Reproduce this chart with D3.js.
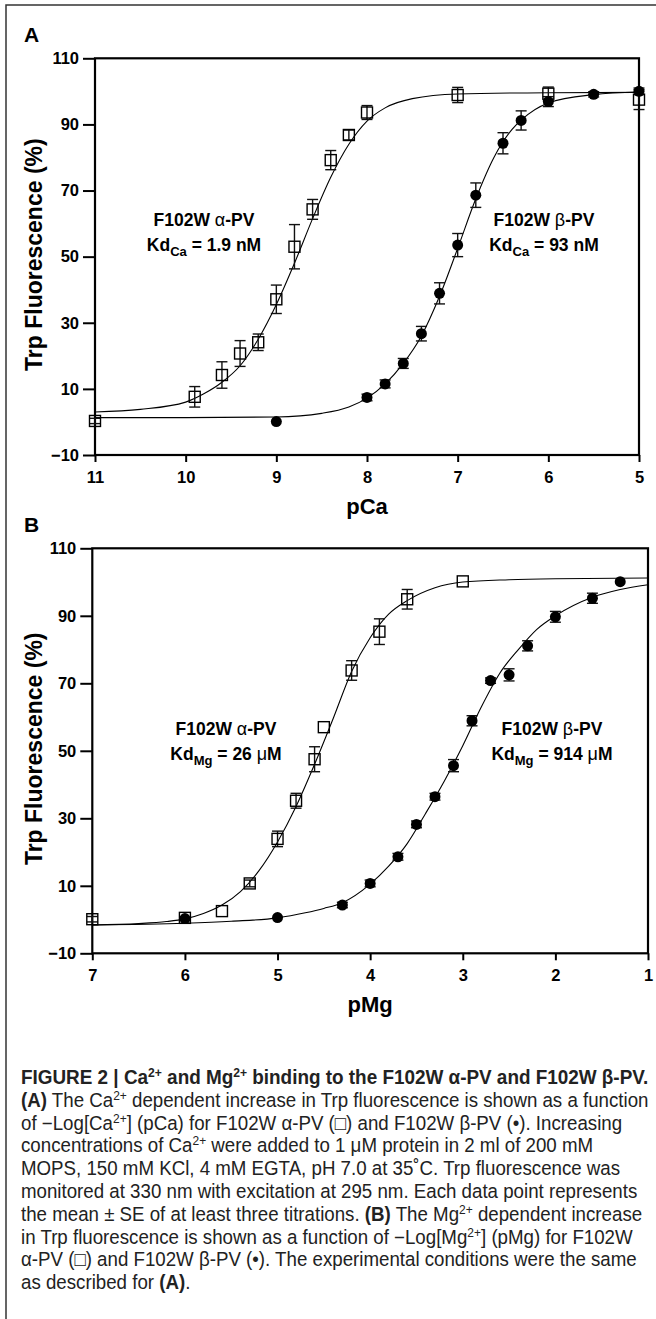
<!DOCTYPE html>
<html>
<head>
<meta charset="utf-8">
<script src="https://cdn.jsdelivr.net/npm/d3@7"></script>
<style>
  body { margin: 0; background: #fff; }
  svg { display: block; }
  text { font-family: "Liberation Sans", Arial, sans-serif; }
</style>
</head>
<body>
<div id="chart"></div>
<script>
// ---- data ----
const pCaTicks = [11, 10, 9, 8, 7, 6, 5];
const pMgTicks = [7, 6, 5, 4, 3, 2, 1];
const yTicks = [-10, 10, 30, 50, 70, 90, 110];

// panel A, alpha-PV (open squares)
const caAlphaX = [11, 9.9, 9.6, 9.4, 9.2, 9.0, 8.8, 8.6, 8.4, 8.2, 8.0, 7.0, 6.0, 5.0];
const caAlphaY = [0.3, 7.6, 14.2, 20.7, 24.1, 37.1, 53.0, 64.3, 79.2, 86.8, 93.6, 98.9, 99.3, 97.5];
const caAlphaErr = [0.8, 3.1, 4.0, 3.9, 2.5, 4.3, 6.7, 3.0, 2.9, 1.5, 2.1, 2.3, 2.0, 3.0];
// panel A, beta-PV (filled circles)
const caBetaX = [9.0, 8.0, 7.8, 7.6, 7.4, 7.2, 7.0, 6.8, 6.5, 6.3, 6.0, 5.5, 5.0];
const caBetaY = [0.1, 7.4, 11.5, 17.7, 26.7, 38.9, 53.5, 68.6, 84.3, 91.2, 96.9, 99.1, 100.0];
const caBetaErr = [0.5, 1.0, 1.2, 1.5, 2.2, 3.2, 3.5, 3.7, 3.2, 2.9, 1.5, 0.8, 1.0];
// fitted curves, panel A
const caAlphaFitX = [11, 10.5, 10, 9.8, 9.6, 9.4, 9.2, 9.0, 8.8, 8.6, 8.4, 8.2, 8.0, 7.8, 7.5, 7.0, 6.0, 5.0];
const caAlphaFitY = [3.0, 3.8, 6.0, 8.5, 12.0, 17.0, 25.0, 35.5, 48.0, 61.5, 74.0, 84.0, 91.0, 95.0, 97.8, 99.2, 99.6, 99.7];
const caBetaFitX = [11, 10, 9.0, 8.5, 8.2, 8.0, 7.8, 7.6, 7.4, 7.2, 7.0, 6.8, 6.6, 6.4, 6.3, 6.0, 5.5, 5.0];
const caBetaFitY = [1.3, 1.3, 1.5, 2.6, 4.5, 7.2, 11.5, 17.7, 26.0, 38.0, 52.5, 67.5, 80.0, 88.5, 91.3, 96.5, 99.0, 99.8];

// panel B, alpha-PV
const mgAlphaX = [7.0, 6.0, 5.6, 5.3, 5.0, 4.8, 4.6, 4.5, 4.2, 3.9, 3.6, 3.0];
const mgAlphaY = [0.1, 0.5, 2.5, 10.7, 23.9, 35.2, 47.5, 57.0, 73.8, 85.3, 94.9, 100.2];
const mgAlphaErr = [0.8, 0.6, 0.5, 1.0, 2.3, 2.2, 3.7, 0.5, 2.9, 3.8, 2.9, 0.6];
// panel B, beta-PV
const mgBetaX = [6.0, 5.0, 4.3, 4.0, 3.7, 3.5, 3.3, 3.1, 2.9, 2.7, 2.5, 2.3, 2.0, 1.6, 1.3];
const mgBetaY = [0.3, 0.6, 4.3, 10.7, 18.6, 28.2, 36.4, 45.6, 58.9, 70.8, 72.5, 81.1, 89.7, 95.2, 100.1];
const mgBetaErr = [0.5, 0.6, 0.8, 1.0, 1.0, 1.0, 1.0, 1.8, 1.5, 0.8, 1.8, 1.5, 1.6, 1.5, 0.5];
// fitted curves, panel B
const mgAlphaFitX = [7.0, 6.5, 6.2, 6.0, 5.8, 5.6, 5.4, 5.2, 5.0, 4.8, 4.6, 4.4, 4.2, 4.0, 3.8, 3.6, 3.3, 3.0, 2.5, 2.0, 1.0];
const mgAlphaFitY = [-1.6, -1.2, -0.6, 0.2, 1.8, 4.3, 8.3, 14.5, 23.0, 33.5, 46.0, 59.5, 73.5, 83.5, 90.5, 94.5, 98.3, 100.0, 100.7, 101.0, 101.2];
const mgBetaFitX = [7.0, 6.0, 5.5, 5.0, 4.7, 4.5, 4.3, 4.0, 3.8, 3.6, 3.4, 3.2, 3.0, 2.8, 2.6, 2.4, 2.2, 2.0, 1.6, 1.3, 1.0];
const mgBetaFitY = [-1.6, -1.1, -0.5, 0.5, 2.0, 3.3, 5.0, 10.5, 15.8, 22.5, 31.5, 41.0, 51.5, 63.0, 73.0, 80.0, 86.0, 90.0, 95.5, 97.8, 99.2];

const W = 656, H = 1319;
const svg = d3.select('#chart').append('svg').attr('width', W).attr('height', H);

// outer frame
svg.append('rect').attr('x', 6).attr('y', 5).attr('width', 700).attr('height', 1400)
  .attr('fill', 'none').attr('stroke', '#333').attr('stroke-width', 1.5);

const zip = (xs, ys, es) => xs.map((x, i) => ({ x: x, y: ys[i], e: es ? es[i] : 0 }));

function panel(o) {
  const x = d3.scaleLinear().domain(o.xDomain).range([o.left, o.right]);
  const y = d3.scaleLinear().domain([-10, 110]).range([o.bottom, o.top]);
  const g = svg.append('g');

  const clipId = 'clip' + o.name;
  svg.append('clipPath').attr('id', clipId).append('rect')
    .attr('x', o.left).attr('y', o.top).attr('width', o.right - o.left).attr('height', o.bottom - o.top);

  // axes
  const ax = g.append('g').attr('transform', `translate(0,${o.bottom})`)
    .call(d3.axisBottom(x).tickValues(o.xTicks).tickFormat(d3.format('d')).tickSize(7).tickPadding(9));
  const ay = g.append('g').attr('transform', `translate(${o.left},0)`)
    .call(d3.axisLeft(y).tickValues(yTicks).tickSize(12).tickPadding(4));
  [ax, ay].forEach(a => {
    a.select('.domain').remove();
    a.selectAll('line').attr('stroke', '#000').attr('stroke-width', 2);
    a.selectAll('text').attr('font-size', 16.5).attr('font-weight', 'bold').attr('fill', '#000')
      .attr('font-family', '"Liberation Sans", Arial, sans-serif');
  });

  g.append('rect').attr('x', o.left).attr('y', o.top)
    .attr('width', o.right - o.left).attr('height', o.bottom - o.top)
    .attr('fill', 'none').attr('stroke', '#000').attr('stroke-width', 2.2);

  // fitted curves
  const line = d3.line().x(d => x(d.x)).y(d => y(d.y)).curve(d3.curveMonotoneX);
  o.fits.forEach(f => {
    g.append('path').attr('d', line(f)).attr('fill', 'none')
      .attr('stroke', '#000').attr('stroke-width', 1.1).attr('clip-path', `url(#${clipId})`);
  });

  // error bars
  const drawErr = (data) => {
    const eb = g.append('g').attr('stroke', '#111').attr('stroke-width', 1.4);
    data.filter(d => d.e > 0.6).forEach(d => {
      const cx = x(d.x), y0 = y(d.y - d.e), y1 = y(d.y + d.e);
      eb.append('line').attr('x1', cx).attr('x2', cx).attr('y1', y0).attr('y2', y1);
      eb.append('line').attr('x1', cx - 5.5).attr('x2', cx + 5.5).attr('y1', y0).attr('y2', y0);
      eb.append('line').attr('x1', cx - 5.5).attr('x2', cx + 5.5).attr('y1', y1).attr('y2', y1);
    });
  };
  drawErr(o.squares);
  drawErr(o.circles);

  g.append('g').selectAll('rect').data(o.squares).join('rect')
    .attr('x', d => x(d.x) - 5.5).attr('y', d => y(d.y) - 5.5)
    .attr('width', 11).attr('height', 11)
    .attr('fill', 'none').attr('stroke', '#000').attr('stroke-width', 1.4);
  g.append('g').selectAll('circle').data(o.circles).join('circle')
    .attr('cx', d => x(d.x)).attr('cy', d => y(d.y)).attr('r', 5.5).attr('fill', '#000');

  // axis titles
  g.append('text').attr('x', (o.left + o.right) / 2).attr('y', o.bottom + 59)
    .attr('text-anchor', 'middle').attr('font-size', 22).attr('font-weight', 'bold').text(o.xTitle);
  g.append('text').attr('transform', `translate(42,${(o.top + o.bottom) / 2 - 2}) rotate(-90)`)
    .attr('text-anchor', 'middle').attr('font-size', 23).attr('font-weight', 'bold').text('Trp Fluorescence (%)');

  // panel letter
  g.append('text').attr('x', 24).attr('y', o.top - 16).attr('font-size', 21).attr('font-weight', 'bold').text(o.name);

  // annotations
  o.labels.forEach(l => {
    const t1 = g.append('text').attr('x', l.cx).attr('y', l.y).attr('text-anchor', 'middle')
      .attr('font-size', 17.5).attr('font-weight', 'bold');
    t1.append('tspan').text('F102W ');
    t1.append('tspan').attr('font-weight', 'normal').attr('font-size', 18).text(l.greek);
    t1.append('tspan').text('-PV');
    const t2 = g.append('text').attr('x', l.cx).attr('y', l.y + 25).attr('text-anchor', 'middle')
      .attr('font-size', 17.5).attr('font-weight', 'bold');
    t2.append('tspan').text('Kd');
    t2.append('tspan').attr('font-size', 13).attr('dy', 5).text(l.sub);
    t2.append('tspan').attr('dy', -5).text(' = ' + l.num + ' ');
    if (l.unit[0] === 'μ') {
      t2.append('tspan').attr('font-weight', 'normal').attr('font-size', 18).text('μ');
      t2.append('tspan').text(l.unit.slice(1));
    } else {
      t2.append('tspan').text(l.unit);
    }
  });
}

panel({
  name: 'A', xDomain: [11, 5], xTicks: pCaTicks, xTitle: 'pCa',
  left: 95, right: 639, top: 58.3, bottom: 455,
  squares: zip(caAlphaX, caAlphaY, caAlphaErr),
  circles: zip(caBetaX, caBetaY, caBetaErr),
  fits: [zip(caAlphaFitX, caAlphaFitY), zip(caBetaFitX, caBetaFitY)],
  labels: [
    { cx: 204, y: 226, greek: 'α', sub: 'Ca', num: '1.9', unit: 'nM' },
    { cx: 544, y: 226, greek: 'β', sub: 'Ca', num: '93', unit: 'nM' }
  ]
});

panel({
  name: 'B', xDomain: [7, 1], xTicks: pMgTicks, xTitle: 'pMg',
  left: 92.3, right: 648, top: 548.3, bottom: 953.3,
  squares: zip(mgAlphaX, mgAlphaY, mgAlphaErr),
  circles: zip(mgBetaX, mgBetaY, mgBetaErr),
  fits: [zip(mgAlphaFitX, mgAlphaFitY), zip(mgBetaFitX, mgBetaFitY)],
  labels: [
    { cx: 226, y: 735, greek: 'α', sub: 'Mg', num: '26', unit: 'μM' },
    { cx: 552, y: 735, greek: 'β', sub: 'Mg', num: '914', unit: 'μM' }
  ]
});

// ---- caption ----
const S = (t) => ({ t: t, sup: true });
const B = (t) => ({ t: t, b: true });
const captionLines = [
  [B('FIGURE 2 | Ca'), { t: '2+', sup: true, b: true }, B(' and Mg'), { t: '2+', sup: true, b: true }, B(' binding to the F102W α-PV and F102W β-PV.')],
  [B('(A)'), ' The Ca', S('2+'), ' dependent increase in Trp fluorescence is shown as a function'],
  ['of −Log[Ca', S('2+'), '] (pCa) for F102W α-PV (□) and F102W β-PV (•). Increasing'],
  ['concentrations of Ca', S('2+'), ' were added to 1 μM protein in 2 ml of 200 mM'],
  ['MOPS, 150 mM KCl, 4 mM EGTA, pH 7.0 at 35˚C. Trp fluorescence was'],
  ['monitored at 330 nm with excitation at 295 nm. Each data point represents'],
  ['the mean ± SE of at least three titrations. ', B('(B)'), ' The Mg', S('2+'), ' dependent increase'],
  ['in Trp fluorescence is shown as a function of −Log[Mg', S('2+'), '] (pMg) for F102W'],
  ['α-PV (□) and F102W β-PV (•). The experimental conditions were the same'],
  ['as described for ', B('(A)'), '.']
];

const cap = svg.append('g').attr('fill', '#222');
const capTexts = captionLines.map((segs, i) => {
  const t = cap.append('text').attr('x', 0).attr('y', 0)
    .attr('transform', `translate(21,${1084 + i * 22.8})`)
    .attr('font-size', 19.5);
  let raised = false;
  segs.forEach(s => {
    const seg = typeof s === 'string' ? { t: s } : s;
    const ts = t.append('tspan').text(seg.t);
    if (seg.b) ts.attr('font-weight', 'bold');
    if (seg.sup) { ts.attr('dy', -7).attr('font-size', 12.5); raised = true; }
    else if (raised) { ts.attr('dy', 7); raised = false; }
  });
  return t;
});
// condense the caption horizontally so the full lines fit the column like the original
const titleScale = 628 / capTexts[0].node().getComputedTextLength();
const full = [[1, 628], [5, 626], [6, 630], [7, 626]];
const bodyScale = d3.min(full, ([i, w]) => w / capTexts[i].node().getComputedTextLength());
capTexts.forEach((t, i) => {
  const s = i === 0 ? titleScale : bodyScale;
  t.attr('transform', `translate(21,${1084 + i * 22.8}) scale(${s},1)`);
});
</script>
</body>
</html>
